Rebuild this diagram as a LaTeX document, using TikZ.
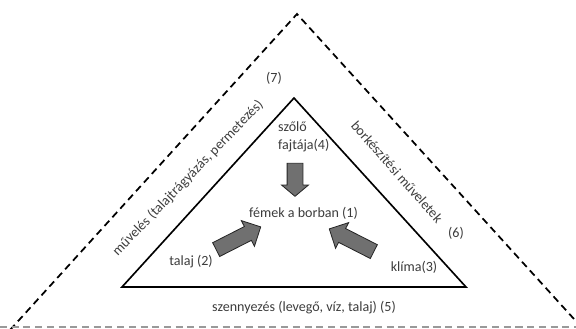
\documentclass[tikz,border=0pt]{standalone}
\usepackage{fontspec}
\setmainfont{Carlito}
\usetikzlibrary{shapes.arrows,positioning}
\definecolor{txtGray}{RGB}{60,60,60}
\definecolor{arrGray}{RGB}{112,112,112}

\begin{document}
\begin{tikzpicture}[
  x=0.03cm, y=-0.03cm,
  font=\fontsize{12}{14}\selectfont,
  every node/.append style={align=center, text=txtGray},
  frame/.style={draw, line width=1.4pt, line join=miter},
  dashframe/.style={draw, line width=1.5pt, dash pattern=on 6pt off 4pt},
  fat/.style={single arrow, draw=black!85, fill=arrGray, line width=0.7pt,
    inner xsep=0pt, inner ysep=0.22cm, single arrow head extend=0.2cm,
    minimum height=1.5cm},
  fatdown/.style={fat, inner ysep=0.225cm, single arrow head extend=0.165cm,
    minimum height=0.99cm, single arrow tip angle=100},
]
\useasboundingbox (0,0) rectangle (576,328);
\clip (0,0) rectangle (576,328);
% outer dashed triangle
\coordinate (oTop) at (297,14);
\coordinate (oL) at (10,330);
\coordinate (oR) at (584,330);
\draw[dashframe] (oL) -- (oTop) -- (oR);
\draw[dashframe, black!40] (0,327) -- (576,327);
% inner triangle
\coordinate (iTop) at (294,98);
\coordinate (iL) at (122,287);
\coordinate (iR) at (466,287);
\draw[frame] (iL) -- (iTop) -- (iR) -- cycle;
% labels
\node (fem) at (303.5,213) {fémek a borban (1)};
\node[anchor=west, align=left, font=\fontsize{12}{15}\selectfont] (szolo) at (274,137) {szőlő\\fajtája(4)};
\node (talaj) at (191,262) {talaj (2)};
\node (klima) at (414,267) {klíma(3)};
\node (szenny) at (304,308) {szennyezés (levegő, víz, talaj) (5)};
\node[rotate=46] (muveles) at (188,178) {művelés (talajtrágyázás, permetezés)};
\node (n7) at (274,78) {(7)};
\node[rotate=-48.5] (bork) at (397,172) {borkészítési műveletek};
\node (n6) at (456,233) {(6)};
% block arrows
\node[fatdown, rotate=-90] (arrT) at (295,176.5) {};
\node[fat, rotate=27] (arrL) at (235,240) {};
\node[fat, rotate=153] (arrR) at (355,242) {};
\end{tikzpicture}
\end{document}
